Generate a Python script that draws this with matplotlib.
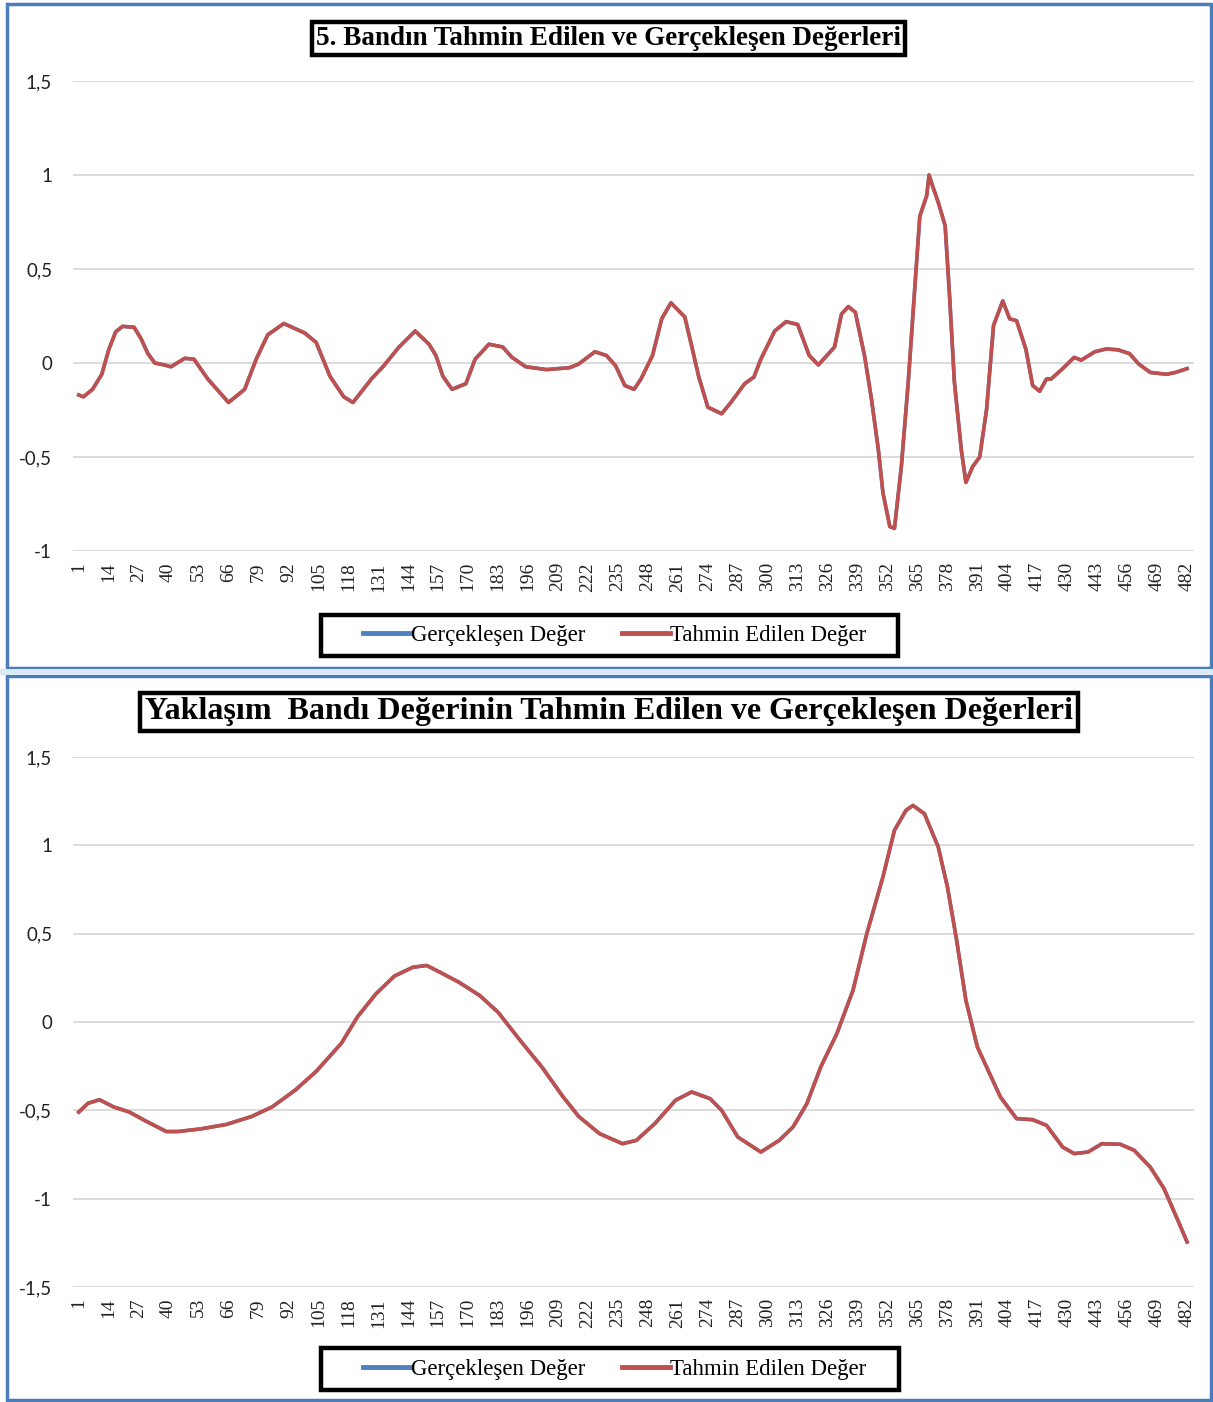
import matplotlib
matplotlib.use("Agg")
import matplotlib.pyplot as plt
from matplotlib.lines import Line2D
from matplotlib.patches import Rectangle
from matplotlib.ticker import FuncFormatter

# 5. band - tahmin edilen (gerceklesen ile ust uste)
band5_idx = [1, 3, 7, 11, 14, 17, 20, 25, 28, 31, 34, 38, 41, 47, 51, 57, 66, 73, 78, 83,
             90, 99, 104, 110, 116, 120, 128, 133, 140, 147, 153, 156, 159, 163, 169, 173, 179, 185, 189, 195,
             204, 214, 218, 225, 230, 234, 238, 242, 245, 250, 254, 258, 264, 267, 270, 274, 280, 284, 290, 294,
             297, 303, 308, 313, 318, 322, 329, 332, 335, 338, 342, 345, 348, 350, 353, 355, 358, 361, 364, 366,
             369, 370, 372, 374, 377, 379, 381, 384, 386, 389, 392, 395, 398, 402, 405, 408, 412, 415, 418, 421,
             423, 428, 433, 436, 442, 447, 452, 457, 461, 466, 473, 477, 482]
band5_val = [-0.17, -0.18, -0.14, -0.06, 0.07, 0.165, 0.195, 0.19, 0.13, 0.05, 0.0, -0.01, -0.02, 0.025, 0.02, -0.085, -0.21, -0.14, 0.02, 0.15,
             0.21, 0.16, 0.11, -0.07, -0.18, -0.21, -0.085, -0.02, 0.085, 0.17, 0.1, 0.04, -0.07, -0.14, -0.11, 0.02, 0.10, 0.085, 0.03, -0.02,
             -0.035, -0.025, -0.005, 0.06, 0.04, -0.015, -0.12, -0.14, -0.085, 0.04, 0.235, 0.32, 0.245, 0.09, -0.07, -0.235, -0.27, -0.21, -0.11, -0.075,
             0.02, 0.17, 0.22, 0.205, 0.04, -0.01, 0.085, 0.26, 0.30, 0.27, 0.04, -0.19, -0.46, -0.69, -0.87, -0.88, -0.55, -0.10, 0.43, 0.78,
             0.89, 1.0, 0.925, 0.855, 0.73, 0.34, -0.10, -0.46, -0.635, -0.55, -0.50, -0.245, 0.20, 0.33, 0.235, 0.225, 0.075, -0.12, -0.15, -0.085,
             -0.085, -0.03, 0.03, 0.015, 0.06, 0.075, 0.07, 0.05, -0.005, -0.05, -0.06, -0.05, -0.03]

# yaklasim bandi
yak_idx = [1, 5, 10, 16, 23, 30, 39, 44, 54, 65, 76, 85, 95, 104, 115, 122, 130, 138, 146, 152,
           158, 166, 175, 183, 192, 202, 211, 218, 227, 237, 243, 251, 260, 267, 275, 280, 287, 297, 305, 311,
           317, 323, 330, 337, 343, 350, 355, 360, 363, 368, 374, 378, 382, 386, 391, 395, 401, 408, 415, 421,
           428, 433, 439, 445, 453, 459, 466, 472, 478, 482]
yak_val = [-0.51, -0.46, -0.44, -0.48, -0.51, -0.56, -0.62, -0.62, -0.605, -0.58, -0.535, -0.48, -0.385, -0.28, -0.12, 0.03, 0.16, 0.26, 0.31, 0.32,
           0.28, 0.225, 0.15, 0.055, -0.095, -0.255, -0.42, -0.535, -0.632, -0.689, -0.67, -0.575, -0.443, -0.396, -0.434, -0.5, -0.651, -0.736, -0.67, -0.594,
           -0.462, -0.255, -0.066, 0.179, 0.5, 0.821, 1.085, 1.198, 1.226, 1.179, 0.991, 0.764, 0.462, 0.123, -0.142, -0.255, -0.425, -0.547, -0.553, -0.585,
           -0.708, -0.745, -0.736, -0.689, -0.692, -0.726, -0.821, -0.943, -1.123, -1.245]

xtick_pos = list(range(1, 483, 13))
blue = "#4F81BD"
red = "#C0504D"
frame_blue = "#4A7EBB"

W, H = 1213, 1402
fig = plt.figure(figsize=(W / 100, H / 100), dpi=100)


def px(x0, y0, x1, y1):
    return [x0 / W, 1 - y1 / H, (x1 - x0) / W, (y1 - y0) / H]


def box(x0, y0, x1, y1, **kw):
    r = px(x0, y0, x1, y1)
    fig.patches.append(Rectangle((r[0], r[1]), r[2], r[3], transform=fig.transFigure, **kw))


# blue chart frames
box(7, 4, 1211, 668, fill=False, edgecolor=frame_blue, linewidth=2.5)
box(7, 676, 1211, 1400, fill=False, edgecolor=frame_blue, linewidth=2.5)
box(0, 669, 1213, 675, facecolor="#DCEAF6", edgecolor="none")

comma = FuncFormatter(lambda v, p: ("%g" % v).replace(".", ","))


def make_chart(rect, xs, ys, ylim, yticks, title, title_y, title_size, legend_box):
    ax = fig.add_axes(rect)
    ax.plot(xs, ys, color=blue, linewidth=2.6)
    ax.plot(xs, ys, color=red, linewidth=2.6)
    ax.set_xlim(-1.5, 485)
    ax.set_ylim(*ylim)
    ax.set_yticks(yticks)
    ax.yaxis.set_major_formatter(comma)
    ax.set_xticks(xtick_pos)
    ax.set_xticklabels([str(t) for t in xtick_pos], rotation=90, fontsize=14,
                       family="Liberation Serif", color="#222222")
    for lab in ax.get_yticklabels():
        lab.set_family("Lato")
        lab.set_fontsize(13.5)
        lab.set_color("#222222")
    ax.tick_params(axis="both", length=0)
    ax.tick_params(axis="y", pad=15)
    ax.tick_params(axis="x", pad=8)
    ax.grid(axis="y", color="#D6D6D6", linewidth=1.2)
    ax.set_axisbelow(True)
    for s in ax.spines.values():
        s.set_visible(False)
    fig.text(0.502, title_y, title, ha="center", va="center", fontsize=title_size,
             family="Liberation Serif", fontweight="bold",
             bbox=dict(boxstyle="square,pad=0.15", facecolor="white", edgecolor="black", linewidth=3.2))
    box(*legend_box, fill=False, edgecolor="black", linewidth=3.2)
    lx = (legend_box[0] + legend_box[2]) / 2 / W
    ly = 1 - (legend_box[1] + legend_box[3]) / 2 / H
    handles = [Line2D([], [], color=blue, linewidth=3.5), Line2D([], [], color=red, linewidth=3.5)]
    fig.legend(handles, ["Gerçekleşen Değer", "Tahmin Edilen Değer"], loc="center",
               bbox_to_anchor=(lx + 0.004, ly), ncol=2, frameon=False,
               prop={"family": "Liberation Serif", "size": 16.5}, handlelength=2.1,
               handletextpad=0.0, columnspacing=1.6, borderpad=0.2)
    return ax


make_chart(px(73, 81, 1194, 551), band5_idx, band5_val, (-1, 1.5), [-1, -0.5, 0, 0.5, 1, 1.5],
           "5. Bandın Tahmin Edilen ve Gerçekleşen Değerleri", 1 - 38.5 / H, 19.5, (321, 615, 898, 656))
make_chart(px(73, 757, 1194, 1287), yak_idx, yak_val, (-1.5, 1.5), [-1.5, -1, -0.5, 0, 0.5, 1, 1.5],
           "Yaklaşım  Bandı Değerinin Tahmin Edilen ve Gerçekleşen Değerleri", 1 - 712 / H, 23, (321, 1348, 899, 1390))

plt.savefig("out.png", dpi=100)
